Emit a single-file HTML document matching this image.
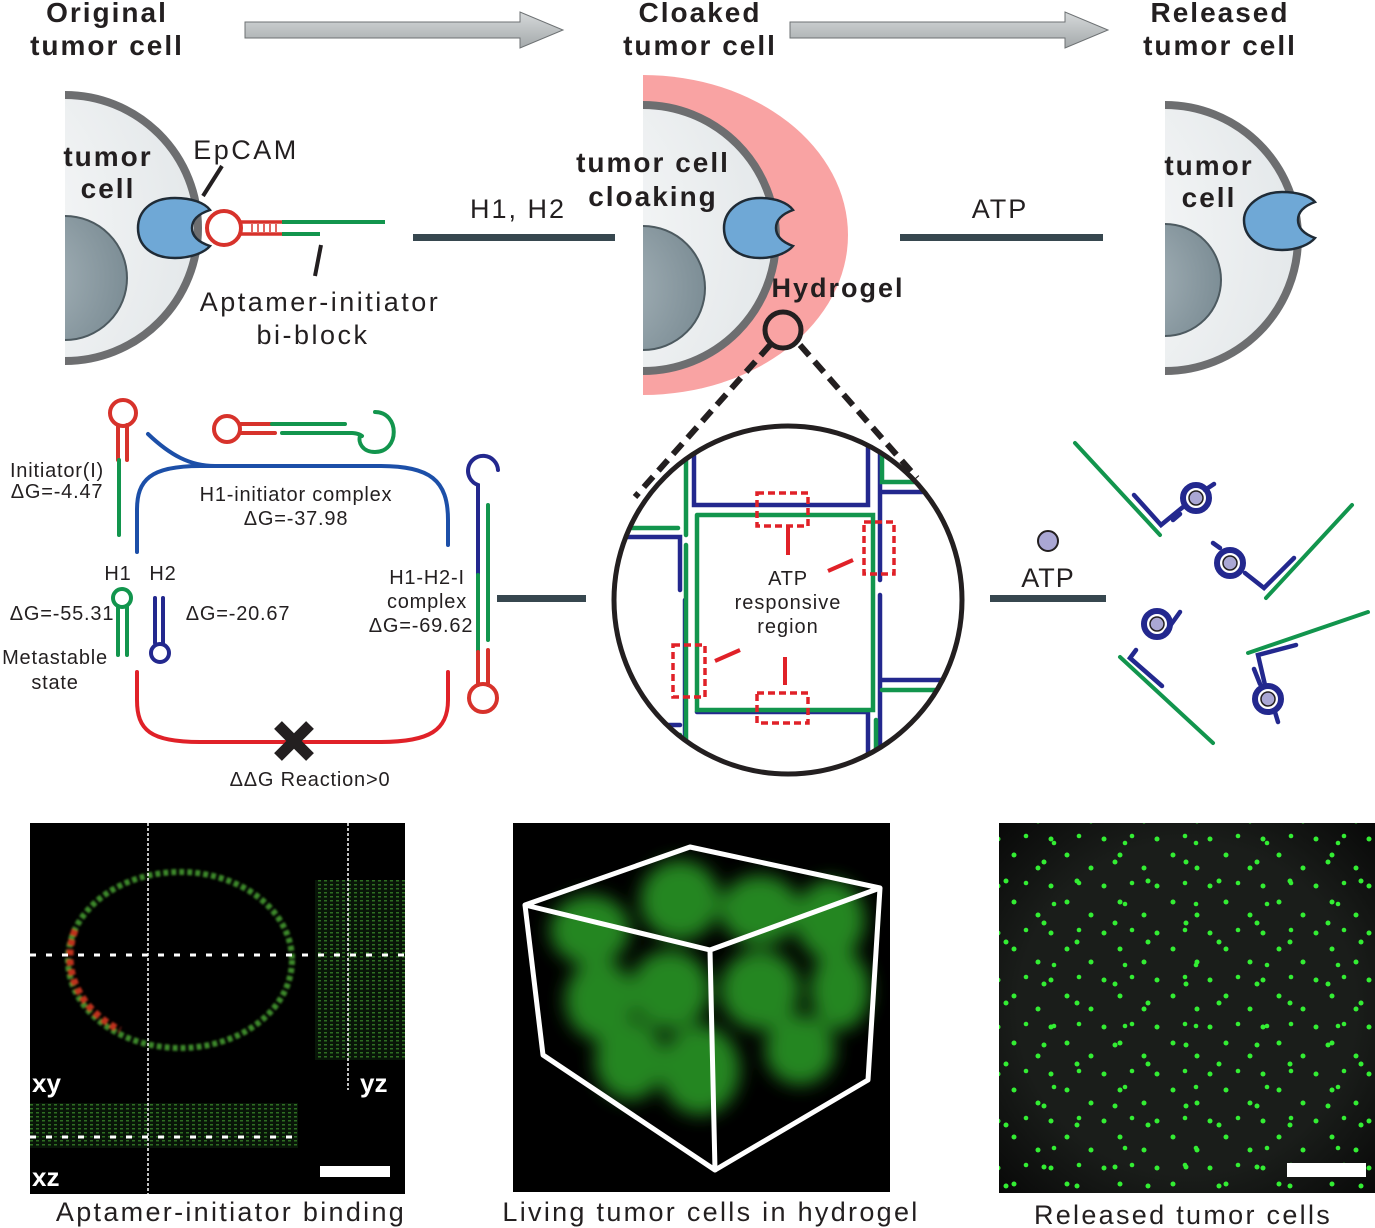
<!DOCTYPE html>
<html><head><meta charset="utf-8"><style>
html,body{margin:0;padding:0;background:#fff;}
svg{display:block;font-family:"Liberation Sans",Arial,sans-serif;}
</style></head><body>
<svg width="1375" height="1228" viewBox="0 0 1375 1228" xmlns="http://www.w3.org/2000/svg">
<defs>
<radialGradient id="cg" cx="0" cy="0.5" r="1"><stop offset="0" stop-color="#fff"/><stop offset="1" stop-color="#e4e8ea"/></radialGradient>
<radialGradient id="ng" cx="0.2" cy="0.5" r="0.8"><stop offset="0" stop-color="#a9b6bc"/><stop offset="1" stop-color="#7d8e96"/></radialGradient>
<linearGradient id="ar" x1="0" y1="0" x2="0" y2="1"><stop offset="0" stop-color="#d6d9da"/><stop offset="1" stop-color="#a4a9ab"/></linearGradient>
<radialGradient id="vg" cx="0.5" cy="0.5" r="0.75"><stop offset="0.6" stop-color="#1a1d1a"/><stop offset="1" stop-color="#050505"/></radialGradient>
<clipPath id="c1"><rect x="65" y="0" width="300" height="400"/></clipPath>
<clipPath id="c2"><rect x="643" y="0" width="300" height="420"/></clipPath>
<clipPath id="c3"><rect x="1165" y="0" width="300" height="420"/></clipPath>
<clipPath id="bc"><circle cx="788" cy="600" r="172"/></clipPath>
<filter id="bl" x="-50%" y="-50%" width="200%" height="200%"><feGaussianBlur stdDeviation="9"/></filter>
<filter id="bl2"><feGaussianBlur stdDeviation="1"/></filter>
<pattern id="d1" width="53" height="47" patternUnits="userSpaceOnUse"><circle cx="7" cy="9" r="2.5" fill="#3e3"/><circle cx="31" cy="22" r="2.5" fill="#3e3"/><circle cx="44" cy="40" r="2.5" fill="#3e3"/><circle cx="19" cy="37" r="2.3" fill="#3e3"/></pattern>
<pattern id="d2" width="71" height="61" patternUnits="userSpaceOnUse"><circle cx="12" cy="27" r="2.5" fill="#3e3"/><circle cx="50" cy="8" r="2.5" fill="#3e3"/><circle cx="60" cy="50" r="2.3" fill="#3e3"/></pattern>
<pattern id="st" width="6" height="4" patternUnits="userSpaceOnUse"><rect width="6" height="4" fill="#0a1a0a"/><rect width="3" height="1.5" fill="#3a8a2a"/></pattern>
</defs>

<!-- titles -->
<g font-weight="bold" font-size="28" fill="#231f20" text-anchor="middle" letter-spacing="2">
<text x="107" y="22">Original</text><text x="107" y="55">tumor cell</text>
<text x="700" y="22">Cloaked</text><text x="700" y="55">tumor cell</text>
<text x="1220" y="22">Released</text><text x="1220" y="55">tumor cell</text>
</g>
<polygon points="245,22 520,22 520,12 563,30 520,48 520,38 245,38" fill="url(#ar)" stroke="#6d7173" stroke-width="1"/>
<polygon points="790,22 1065,22 1065,12 1108,30 1065,48 1065,38 790,38" fill="url(#ar)" stroke="#6d7173" stroke-width="1"/>

<!-- cell 1 -->
<g clip-path="url(#c1)">
<circle cx="65" cy="228" r="133" fill="url(#cg)" stroke="#6d6e70" stroke-width="8"/>
<circle cx="65" cy="278" r="62" fill="url(#ng)" stroke="#4d5a60" stroke-width="2"/>
</g>
<text x="108" y="166" font-size="28" font-weight="bold" text-anchor="middle" fill="#231f20" letter-spacing="2">tumor</text>
<text x="108" y="198" font-size="28" font-weight="bold" text-anchor="middle" fill="#231f20" letter-spacing="2">cell</text>
<path d="M175,198 C150,198 138,212 138,228 C138,246 152,258 175,258 C192,258 205,252 210,246 C198,242 192,236 192,228 C192,220 198,214 210,210 C205,203 192,198 175,198Z" fill="#6fa8d6" stroke="#1f2b36" stroke-width="2.5"/>
<circle cx="224" cy="228" r="17" fill="none" stroke="#d7322b" stroke-width="4"/>
<path d="M240,222 H282 M240,234 H282" stroke="#d7322b" stroke-width="3.5"/>
<path d="M252,224 V232 M258,224 V232 M264,224 V232 M270,224 V232 M276,224 V232" stroke="#d7322b" stroke-width="1.5"/>
<path d="M282,222 H385" stroke="#12954d" stroke-width="4"/>
<path d="M282,234 H320" stroke="#12954d" stroke-width="4"/>
<line x1="222" y1="166" x2="203" y2="196" stroke="#231f20" stroke-width="4"/>
<line x1="321" y1="245" x2="315" y2="276" stroke="#231f20" stroke-width="4"/>
<text x="246" y="159" font-size="27" text-anchor="middle" fill="#231f20" letter-spacing="2.5">EpCAM</text>
<text x="320" y="311" font-size="27" text-anchor="middle" fill="#231f20" letter-spacing="2.5">Aptamer-initiator</text>
<text x="313" y="344" font-size="27" text-anchor="middle" fill="#231f20" letter-spacing="2.5">bi-block</text>

<text x="518" y="218" font-size="27" text-anchor="middle" fill="#231f20" letter-spacing="2">H1, H2</text>
<rect x="413" y="234" width="202" height="7" fill="#37474f"/>
<text x="1000" y="218" font-size="27" text-anchor="middle" fill="#231f20" letter-spacing="2">ATP</text>
<rect x="900" y="234" width="203" height="7" fill="#37474f"/>

<!-- cell 2 -->
<g clip-path="url(#c2)">
<ellipse cx="643" cy="235" rx="205" ry="160" fill="#f9a3a3"/>
<circle cx="643" cy="238" r="133" fill="url(#cg)" stroke="#6d6e70" stroke-width="8"/>
<circle cx="643" cy="288" r="62" fill="url(#ng)" stroke="#4d5a60" stroke-width="2"/>
</g>
<path d="M760,198 C738,198 724,212 724,228 C724,246 738,258 760,258 C776,258 788,252 793,246 C782,242 776,236 776,228 C776,220 782,214 793,210 C788,203 776,198 760,198Z" fill="#6fa8d6" stroke="#1f2b36" stroke-width="2.5"/>
<text x="653" y="172" font-size="28" font-weight="bold" text-anchor="middle" fill="#231f20" letter-spacing="2">tumor cell</text>
<text x="653" y="206" font-size="28" font-weight="bold" text-anchor="middle" fill="#231f20" letter-spacing="2">cloaking</text>
<text x="838" y="297" font-size="27" font-weight="bold" text-anchor="middle" fill="#231f20" letter-spacing="2">Hydrogel</text>
<circle cx="783" cy="330" r="18" fill="none" stroke="#231f20" stroke-width="5"/>
<line x1="770" y1="345" x2="635" y2="497" stroke="#231f20" stroke-width="6" stroke-dasharray="14,8"/>
<line x1="800" y1="345" x2="917" y2="478" stroke="#231f20" stroke-width="6" stroke-dasharray="14,8"/>

<!-- cell 3 -->
<g clip-path="url(#c3)">
<circle cx="1165" cy="238" r="133" fill="url(#cg)" stroke="#6d6e70" stroke-width="8"/>
<circle cx="1165" cy="280" r="56" fill="url(#ng)" stroke="#4d5a60" stroke-width="2"/>
</g>
<path d="M1282,192 C1260,192 1244,206 1244,220 C1244,238 1260,250 1282,250 C1298,250 1310,244 1315,238 C1304,234 1298,228 1298,220 C1298,212 1304,206 1315,202 C1310,196 1298,192 1282,192Z" fill="#6fa8d6" stroke="#1f2b36" stroke-width="2.5"/>
<text x="1209" y="175" font-size="28" font-weight="bold" text-anchor="middle" fill="#231f20" letter-spacing="2">tumor</text>
<text x="1209" y="207" font-size="28" font-weight="bold" text-anchor="middle" fill="#231f20" letter-spacing="2">cell</text>

<!-- HCR cycle -->
<g fill="none" stroke-width="4" stroke-linecap="round">
<circle cx="123" cy="413" r="13" stroke="#d7322b"/>
<path d="M118,425 V460 M127,425 V460" stroke="#d7322b"/>
<path d="M119,460 V535" stroke="#12954d"/>
<path d="M148,434 C170,455 190,466 215,466" stroke="#1c4fa8"/>
<path d="M137,552 V510 C137,480 150,466 200,466 H380 C430,466 448,480 448,520 V545" stroke="#1c4fa8"/>
<circle cx="227" cy="429" r="13" stroke="#d7322b"/>
<path d="M240,424 H272 M240,433 H275" stroke="#d7322b"/>
<path d="M272,424 H345 M282,433 H352 C352,433 358,433 362,436" stroke="#12954d"/>
<path d="M375,412 C400,412 400,452 375,452 C362,452 358,442 360,436" stroke="#12954d"/>
<path d="M137,672 V700 C137,730 150,742 200,742 H380 C430,742 448,730 448,700 V672" stroke="#e02128"/>
<circle cx="122" cy="598" r="9" stroke="#12954d"/>
<path d="M118,606 V655 M127,606 V655" stroke="#12954d"/>
<path d="M155,598 V643 M163,598 V643" stroke="#23288e"/>
<circle cx="160" cy="653" r="9" stroke="#23288e"/>
<path d="M478,575 V485 A15,15 0 1 1 498,470" stroke="#23288e"/>
<path d="M478,575 V652 M488,505 V640" stroke="#12954d"/>
<path d="M478,652 V685 M488,650 V685" stroke="#d7322b"/>
<circle cx="483" cy="698" r="14" stroke="#d7322b"/>
</g>
<path d="M278,725 L310,757 M310,725 L278,757" stroke="#231f20" stroke-width="11"/>
<g font-size="20" fill="#231f20" letter-spacing="0.8">
<text x="57" y="477" text-anchor="middle">Initiator(I)</text>
<text x="57" y="498" text-anchor="middle">ΔG=-4.47</text>
<text x="296" y="501" text-anchor="middle">H1-initiator complex</text>
<text x="296" y="525" text-anchor="middle">ΔG=-37.98</text>
<text x="118" y="580" text-anchor="middle">H1</text>
<text x="163" y="580" text-anchor="middle">H2</text>
<text x="62" y="620" text-anchor="middle">ΔG=-55.31</text>
<text x="238" y="620" text-anchor="middle">ΔG=-20.67</text>
<text x="55" y="664" text-anchor="middle">Metastable</text>
<text x="55" y="689" text-anchor="middle">state</text>
<text x="427" y="584" text-anchor="middle">H1-H2-I</text>
<text x="427" y="608" text-anchor="middle">complex</text>
<text x="421" y="632" text-anchor="middle">ΔG=-69.62</text>
<text x="310" y="786" text-anchor="middle">ΔΔG Reaction&gt;0</text>
</g>
<rect x="497" y="595" width="89" height="7" fill="#37474f"/>

<!-- big circle -->
<g clip-path="url(#bc)" fill="none" stroke-width="4.5" stroke-linecap="round">
<g stroke="#23288e">
<path d="M694,440 V505 H868 V440"/><path d="M880,440 V580 M880,595 V760"/>
<path d="M882,492 H960 M882,680 H960"/>
<path d="M600,537 H680 V590 M685,600 V760"/>
<path d="M697,712 H868 V760"/><path d="M600,725 H680"/>
</g>
<g stroke="#12954d">
<path d="M686,440 V535 M686,545 V760"/><path d="M697,515 H873 V710 H697 V515"/>
<path d="M882,440 V482 H960 M882,690 H960 M876,720 V760"/>
<path d="M600,528 H678"/><path d="M600,735 H680"/>
</g>
</g>
<g fill="none" stroke="#e02128" stroke-width="3.5" stroke-dasharray="7,4">
<rect x="757" y="493" width="51" height="33"/>
<rect x="864" y="522" width="30" height="52"/>
<rect x="673" y="645" width="32" height="52"/>
<rect x="757" y="693" width="51" height="30"/>
</g>
<g stroke="#e02128" stroke-width="4">
<line x1="788" y1="527" x2="788" y2="555"/><line x1="828" y1="571" x2="853" y2="560"/>
<line x1="715" y1="661" x2="740" y2="650"/><line x1="785" y1="657" x2="785" y2="685"/>
</g>
<text x="788" y="585" font-size="20" text-anchor="middle" fill="#231f20" letter-spacing="0.8">ATP</text>
<text x="788" y="609" font-size="20" text-anchor="middle" fill="#231f20" letter-spacing="1">responsive</text>
<text x="788" y="633" font-size="20" text-anchor="middle" fill="#231f20" letter-spacing="1">region</text>
<circle cx="788" cy="600" r="174" fill="none" stroke="#231f20" stroke-width="5"/>

<!-- ATP release -->
<circle cx="1048" cy="541" r="10" fill="#aaa7d4" stroke="#231f20" stroke-width="2"/>
<text x="1048" y="587" font-size="27" text-anchor="middle" fill="#231f20" letter-spacing="1">ATP</text>
<rect x="990" y="595" width="116" height="7" fill="#37474f"/>
<g fill="none" stroke-linecap="round">
<g stroke="#12954d" stroke-width="4">
<line x1="1075" y1="443" x2="1160" y2="535"/><line x1="1352" y1="505" x2="1266" y2="598"/>
<line x1="1120" y1="657" x2="1213" y2="743"/><line x1="1248" y1="653" x2="1368" y2="612"/>
</g>
<g stroke="#23288e" stroke-width="4.5">
<path d="M1134,495 L1161,525 L1183,507 M1173,520 L1180,514 M1205,490 L1214,484"/>
<path d="M1294,558 L1264,588 L1245,573 M1213,543 L1220,548"/>
<path d="M1180,612 L1165,633 M1136,650 L1130,658 L1162,686"/>
<path d="M1296,645 L1258,655 L1265,685 M1254,669 L1260,684 M1275,712 L1278,722"/>
</g>
<g stroke="#23288e" stroke-width="6">
<circle cx="1196" cy="498" r="13"/><circle cx="1230" cy="563" r="13"/>
<circle cx="1157" cy="624" r="13"/><circle cx="1268" cy="699" r="13"/>
</g>
</g>
<g fill="#aaa7d4" stroke="#231f20" stroke-width="1.5">
<circle cx="1196" cy="498" r="7"/><circle cx="1230" cy="563" r="7"/>
<circle cx="1157" cy="624" r="7"/><circle cx="1268" cy="699" r="7"/>
</g>

<!-- photo 1 -->
<rect x="30" y="823" width="375" height="371" fill="#000"/>
<rect x="315" y="880" width="90" height="180" fill="url(#st)" opacity="0.8"/>
<rect x="30" y="1103" width="268" height="45" fill="url(#st)" opacity="0.8"/>
<g filter="url(#bl2)">
<ellipse cx="180" cy="960" rx="112" ry="88" fill="none" stroke="#3c8a2c" stroke-width="6" stroke-dasharray="5,3"/>
<path d="M75,930 C60,970 80,1010 120,1030" fill="none" stroke="#c0301e" stroke-width="7" stroke-dasharray="6,4"/>
</g>
<line x1="30" y1="955" x2="405" y2="955" stroke="#fff" stroke-width="3" stroke-dasharray="6,10"/>
<line x1="30" y1="1137" x2="298" y2="1137" stroke="#fff" stroke-width="3" stroke-dasharray="6,10"/>
<line x1="148" y1="823" x2="148" y2="1194" stroke="#fff" stroke-width="1.5" stroke-dasharray="3,2"/>
<line x1="348" y1="823" x2="348" y2="1090" stroke="#fff" stroke-width="1.5" stroke-dasharray="3,2"/>
<rect x="320" y="1166" width="70" height="11" fill="#fff"/>
<g font-size="26" font-weight="bold" fill="#fff"><text x="32" y="1092">xy</text><text x="360" y="1092">yz</text><text x="32" y="1186">xz</text></g>

<!-- photo 2 -->
<rect x="513" y="823" width="377" height="369" fill="#000"/>
<g filter="url(#bl)" fill="#2fa82a" opacity="0.8">
<ellipse cx="590" cy="930" rx="40" ry="35"/><ellipse cx="680" cy="900" rx="40" ry="40"/><ellipse cx="760" cy="910" rx="40" ry="35"/><ellipse cx="830" cy="920" rx="35" ry="40"/>
<ellipse cx="600" cy="1000" rx="35" ry="40"/><ellipse cx="670" cy="990" rx="40" ry="40"/><ellipse cx="760" cy="990" rx="40" ry="40"/><ellipse cx="840" cy="990" rx="30" ry="40"/>
<ellipse cx="630" cy="1060" rx="35" ry="40"/><ellipse cx="700" cy="1070" rx="40" ry="45"/><ellipse cx="800" cy="1050" rx="35" ry="35"/>
</g>
<g fill="none" stroke="#fff" stroke-width="5" stroke-linejoin="round">
<path d="M525,905 L690,847 L880,888 L710,950 Z"/><path d="M525,905 L543,1055 L715,1170 L710,950"/><path d="M715,1170 L868,1080 L880,888"/>
</g>

<!-- photo 3 -->
<rect x="999" y="823" width="376" height="370" fill="url(#vg)"/>
<rect x="999" y="823" width="376" height="370" fill="url(#d1)"/>
<rect x="999" y="823" width="376" height="370" fill="url(#d2)"/>
<rect x="1287" y="1163" width="79" height="14" fill="#fff"/>

<g font-size="27" fill="#231f20" text-anchor="middle" letter-spacing="2.3">
<text x="231" y="1221">Aptamer-initiator binding</text>
<text x="711" y="1221">Living tumor cells in hydrogel</text>
<text x="1183" y="1224">Released tumor cells</text>
</g>
</svg>
</body></html>
